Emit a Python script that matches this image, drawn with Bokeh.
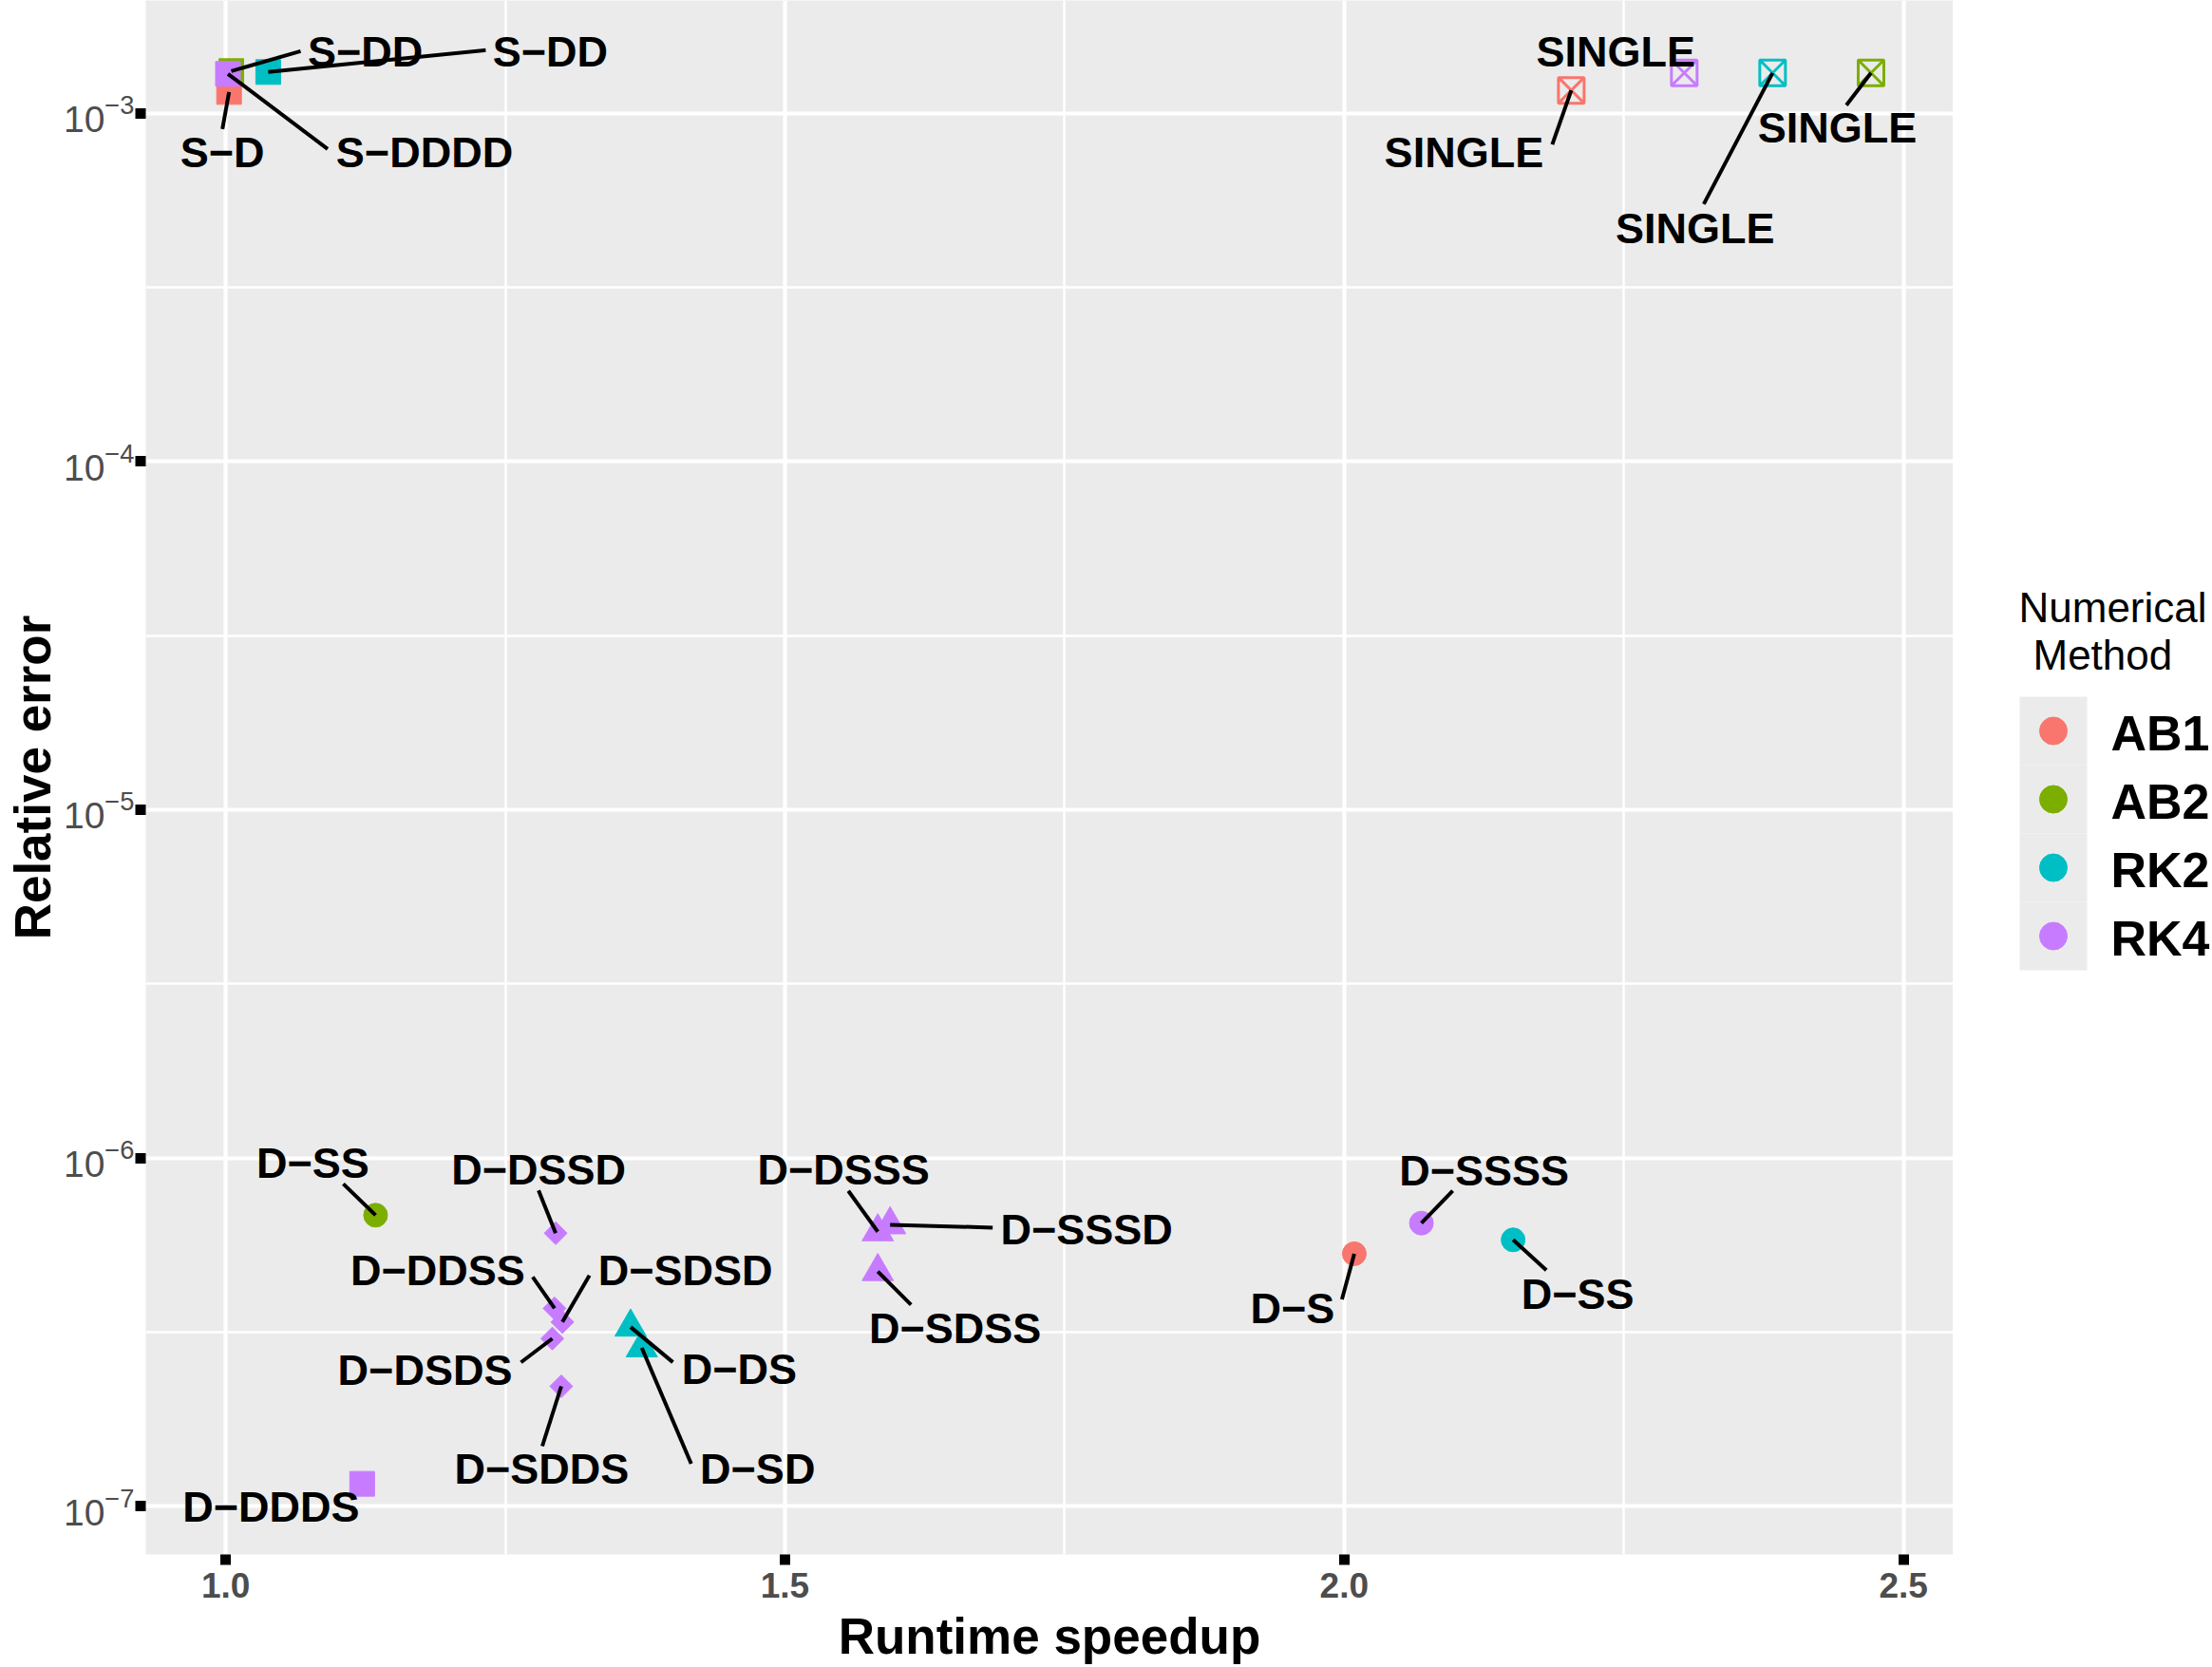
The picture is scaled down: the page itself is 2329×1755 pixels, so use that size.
import numpy as np
from bokeh.plotting import figure
from bokeh.models import ColumnDataSource, Range1d, FixedTicker, LogTickFormatter, NumeralTickFormatter
from bokeh.layouts import row
from bokeh.embed import file_html
from bokeh.resources import INLINE
from bokeh.core.properties import value

# ---------------- data ----------------
methods = ["AB1", "AB2", "RK2", "RK4"]
method_colors = ["#F8766D", "#7CAE00", "#00BFC4", "#C77CFF"]

point_method = ["AB1", "AB2", "RK2", "RK4",
                "AB1", "AB2", "RK2", "RK4",
                "AB1", "AB2", "RK2", "RK4",
                "RK2", "RK2", "RK4", "RK4", "RK4",
                "RK4", "RK4", "RK4", "RK4", "RK4", "RK4"]
point_config = ["S-D", "S-DD", "S-DD", "S-DDDD",
                "SINGLE", "SINGLE", "SINGLE", "SINGLE",
                "D-S", "D-SS", "D-SS", "D-SSSS",
                "D-DS", "D-SD", "D-DSSS", "D-SSSD", "D-SDSS",
                "D-DSSD", "D-DDSS", "D-SDSD", "D-DSDS", "D-SDDS", "D-DDDS"]
speedup = [1.003, 1.005, 1.038, 1.002,
           2.203, 2.471, 2.383, 2.304,
           2.009, 1.134, 2.151, 2.069,
           1.362, 1.372, 1.583, 1.594, 1.583,
           1.295, 1.294, 1.301, 1.292, 1.300, 1.122]
rel_error = [1.150e-3, 1.320e-3, 1.312e-3, 1.296e-3,
             1.162e-3, 1.304e-3, 1.304e-3, 1.304e-3,
             5.31e-7, 6.85e-7, 5.82e-7, 6.50e-7,
             3.27e-7, 2.85e-7, 6.14e-7, 6.43e-7, 4.72e-7,
             6.08e-7, 3.70e-7, 3.38e-7, 3.03e-7, 2.21e-7, 1.16e-7]

x_ticks = [1.0, 1.5, 2.0, 2.5]
x_minor = [0.75, 1.25, 1.75, 2.25, 2.75]
y_ticks = [1e-7, 1e-6, 1e-5, 1e-4, 1e-3]
y_minor = [10 ** -7.5, 10 ** -6.5, 10 ** -5.5, 10 ** -4.5, 10 ** -3.5, 10 ** -2.5]

# label placement (repel result), screen px relative to the point:
# (label centre dx, label centre dy, segment end dx, segment end dy), y downwards
label_offsets = [
    (-7, 63, -7, 39), (141, -21.5, 73, -21), (297, -22.5, 229, -23), (207, 82, 105, 79),
    (-113, 64, -20, 57), (-35.5, 57, -26, 34), (-81.5, 163, -72.5, 138), (-72, -23, 0, 0),
    (-65, 57, -13, 48), (-66, -56, -34, -33), (68, 56, 35, 32), (66, -56, 33, -34),
    (114.5, 43, 44.5, 37), (122, 127, 52, 122), (-36, -66, -31, -43), (207, 4, 108, 3),
    (81.5, 59, 35, 35),
    (-18, -68, -18, -45), (-123, -41, -23, -33), (129.5, -55, 28.5, -49),
    (-134, 32, -33, 25), (-20.5, 86, -20, 63), (-96, 23, 0, 0),
]

# ---------------- layout constants ----------------
FW, FH = 1903, 1636
LEFT, BOTTOM = 153, 119
FONT = "Liberation Sans"
TXT_SHIFT = 1  # baseline shift below cap centre (px) as rendered

xs = np.array(speedup)
ly = np.log10(np.array(rel_error))
xspan = xs.max() - xs.min()
yspan = ly.max() - ly.min()
x0, x1 = xs.min() - 0.05 * xspan, xs.max() + 0.05 * xspan
y0, y1 = ly.min() - 0.05 * yspan, ly.max() + 0.05 * yspan
ppx = FW / (x1 - x0)
ppd = FH / (y1 - y0)

color_of = dict(zip(methods, method_colors))


def shape_of(cfg):
    if cfg == "SINGLE":
        return ("square_x", 27, 0.0, 0.0, 3.0)
    if cfg.startswith("S"):
        return ("square", 26, 0.0, 1.0, 1.0)
    nd = cfg.split("-")[1].count("D")
    return [("circle", 25, 0.0, 1.0, 1.0),
            ("triangle", 33, 0.0, 1.0, 1.0),
            ("square", 17, np.pi / 4, 1.0, 1.0),
            ("square", 26, 0.0, 1.0, 1.0)][nd]


order = sorted(range(len(speedup)), key=lambda i: methods.index(point_method[i]))
pts = dict(x=[], y=[], marker=[], size=[], angle=[], fa=[], lw=[], color=[])
for i in order:
    m, s, a, fa, lw = shape_of(point_config[i])
    pts["x"].append(speedup[i]); pts["y"].append(rel_error[i])
    pts["marker"].append(m); pts["size"].append(s); pts["angle"].append(a)
    pts["fa"].append(fa); pts["lw"].append(lw); pts["color"].append(color_of[point_method[i]])

seg = dict(x0=[], y0=[], x1=[], y1=[])
lab = dict(x=[], y=[], text=[])
for i, (ldx, ldy, sdx, sdy) in enumerate(label_offsets):
    x, y = speedup[i], np.log10(rel_error[i])
    lab["x"].append(x + ldx / ppx)
    lab["y"].append(10 ** (y - (ldy + TXT_SHIFT) / ppd))
    lab["text"].append(point_config[i].replace("-", "\u2212"))
    if sdx or sdy:
        seg["x0"].append(x); seg["y0"].append(10 ** y)
        seg["x1"].append(x + sdx / ppx); seg["y1"].append(10 ** (y - sdy / ppd))

# ---------------- main figure ----------------
p = figure(frame_width=FW, frame_height=FH,
           x_range=Range1d(x0, x1), y_range=Range1d(10 ** y0, 10 ** y1),
           y_axis_type="log", output_backend="svg", toolbar_location=None,
           min_border_left=LEFT, min_border_bottom=BOTTOM, min_border_top=0, min_border_right=0,
           background_fill_color="#EBEBEB", border_fill_color="white", outline_line_color=None)

xt = FixedTicker(ticks=x_ticks, minor_ticks=x_minor)
yt = FixedTicker(ticks=y_ticks, minor_ticks=y_minor)
p.xaxis.ticker = xt
p.yaxis.ticker = yt
p.xgrid.ticker = xt
p.ygrid.ticker = yt
p.yaxis.formatter = LogTickFormatter()
p.xaxis.formatter = NumeralTickFormatter(format="0.0")
for g in (p.xgrid[0], p.ygrid[0]):
    g.grid_line_color = "white"
    g.grid_line_width = 4.2
    g.minor_grid_line_color = "white"
    g.minor_grid_line_width = 2.5

for ax in (p.xaxis[0], p.yaxis[0]):
    ax.axis_line_color = None
    ax.major_tick_line_color = "black"
    ax.major_tick_line_width = 11
    ax.major_tick_out = 11
    ax.major_tick_in = 0
    ax.minor_tick_line_color = None
    ax.major_label_text_font = FONT
    ax.major_label_text_font_size = "37px"
    ax.major_label_text_color = "#4D4D4D"
    ax.axis_label_text_font = FONT
    ax.axis_label_text_font_size = "53px"
    ax.axis_label_text_font_style = "bold"
    ax.axis_label_text_color = "black"

p.yaxis.major_label_text_font_size = "39px"
p.xaxis.axis_label = "Runtime speedup"
p.yaxis.axis_label = "Relative error"
p.xaxis.major_label_text_font_style = "bold"
p.xaxis.major_label_standoff = 8
p.xaxis.axis_label_standoff = 8
p.yaxis.major_label_standoff = 1
p.yaxis.axis_label_standoff = 0

src = ColumnDataSource(pts)
p.scatter(x="x", y="y", marker="marker", size="size", angle="angle",
          fill_color="color", fill_alpha="fa", line_color="color", line_width="lw", source=src)
p.segment(x0="x0", y0="y0", x1="x1", y1="y1", line_color="black", line_width=4,
          source=ColumnDataSource(seg))
p.text(x="x", y="y", text="text", source=ColumnDataSource(lab),
       text_font=value(FONT), text_font_style="bold", text_font_size="45px",
       text_align="center", text_baseline="alphabetic", text_color="black")

# ---------------- legend panel ----------------
H = FH + BOTTOM
LW = 2329 - (LEFT + FW)
leg = figure(frame_width=LW, frame_height=H, x_range=Range1d(0, LW), y_range=Range1d(H, 0),
             output_backend="svg", toolbar_location=None, min_border=0,
             outline_line_color=None, background_fill_color="white", border_fill_color="white")
leg.axis.visible = False
leg.grid.visible = False

key_top, key_h = 733, 72
tops = [key_top + key_h * k for k in range(len(methods))]
centers = [t + key_h / 2 for t in tops]
leg.quad(left=70, right=141, top=tops, bottom=[t + key_h for t in tops],
         fill_color="#EBEBEB", line_color=None)
leg.scatter(x=[105.5] * len(methods), y=centers, size=29, marker="circle",
            fill_color=method_colors, line_color=method_colors)
leg.text(x=[166] * len(methods), y=[c + 2 for c in centers], text=methods,
         text_font=value(FONT), text_font_style="bold", text_font_size="52px",
         text_baseline="alphabetic", text_align="left", text_color="black")
leg.text(x=[69, 84], y=[639, 689], text=["Numerical", "Method"],
         text_font=value(FONT), text_font_size="44px",
         text_baseline="alphabetic", text_align="left", text_color="black")

layout = row(p, leg)
open("out.html", "w").write(file_html(layout, INLINE))
